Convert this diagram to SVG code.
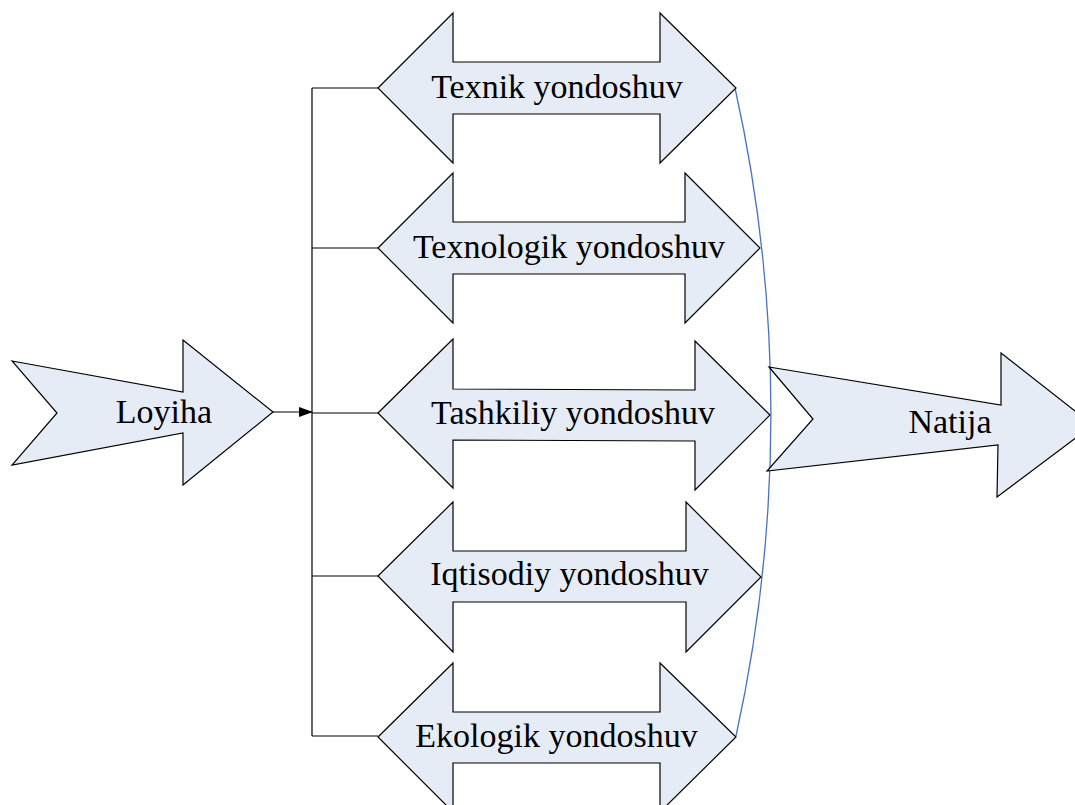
<svg xmlns="http://www.w3.org/2000/svg" width="1075" height="805" viewBox="0 0 1075 805">
  <style>
    .shape { fill: #E6ECF6; stroke: #000000; stroke-width: 1.2; stroke-linejoin: miter; }
    .lbl { font-size: 34px; fill: #000000; text-anchor: middle; }
    .conn { fill: none; stroke: #000000; stroke-width: 1.2; }
    .curve { fill: none; stroke: #4472C4; stroke-width: 1.3; }
  </style>
  <defs>
    <marker id="arrowhead" markerWidth="14" markerHeight="10" refX="13" refY="5" orient="auto" markerUnits="userSpaceOnUse">
      <path d="M0,0 L14,5 L0,10 Z" fill="#000000"/>
    </marker>
  </defs>
  <rect width="1075" height="805" fill="#FFFFFF"/>

  <g id="connectors">
    <line class="conn" x1="273" y1="412" x2="312" y2="412" marker-end="url(#arrowhead)"/>
    <line class="conn" x1="312" y1="88" x2="312" y2="736"/>
    <line class="conn" x1="312" y1="88" x2="378" y2="88"/>
    <line class="conn" x1="312" y1="248" x2="378" y2="248"/>
    <line class="conn" x1="312" y1="413" x2="378" y2="413"/>
    <line class="conn" x1="312" y1="576" x2="378" y2="576"/>
    <line class="conn" x1="312" y1="736" x2="378" y2="736"/>
    <path class="curve" d="M735,88 A1500,1500 0 0 1 736,736"/>
  </g>

  <g font-family="Liberation Serif, DejaVu Serif, serif">
  <g id="loyiha">
    <polygon class="shape" points="12,361 183,392 183,340 273,412 183,485 183,433 12,465 57,413"/>
    <text class="lbl" x="164" y="423" font-family="Liberation Serif, serif">Loyiha</text>
  </g>

  <g id="texnik">
    <polygon class="shape" points="378,88 453,13 453,62 660,62 660,13 736,88 660,163 660,114 453,114 453,163"/>
    <text class="lbl" x="557" y="98" font-family="Liberation Serif, serif">Texnik yondoshuv</text>
  </g>

  <g id="texnologik">
    <polygon class="shape" points="378,248 453,173 453,222 685,222 685,173 760,248 685,323 685,274 453,274 453,323"/>
    <text class="lbl" x="569" y="258" font-family="Liberation Serif, serif">Texnologik yondoshuv</text>
  </g>

  <g id="tashkiliy">
    <polygon class="shape" points="378,413 453,339 453,389 695,390 695,341 770,415 695,490 695,441 453,440 453,488"/>
    <text class="lbl" x="573" y="424" font-family="Liberation Serif, serif">Tashkiliy yondoshuv</text>
  </g>

  <g id="iqtisodiy">
    <polygon class="shape" points="378,576 453,502 453,551 686,551 686,502 761,577 686,652 686,602 453,602 453,652"/>
    <text class="lbl" x="569.5" y="585" font-family="Liberation Serif, serif">Iqtisodiy yondoshuv</text>
  </g>

  <g id="ekologik">
    <polygon class="shape" points="378,737 453,663 453,712 660,712 660,663 736,737 660,812 660,763 453,763 453,812"/>
    <text class="lbl" x="556.5" y="747" font-family="Liberation Serif, serif">Ekologik yondoshuv</text>
  </g>

  <g id="natija">
    <polygon class="shape" points="769,367 1001,405 1001,353 1093,425 997,497 998,445 767,471 813,419"/>
    <text class="lbl" x="950" y="433" font-family="Liberation Serif, serif">Natija</text>
  </g>
  </g>
</svg>
